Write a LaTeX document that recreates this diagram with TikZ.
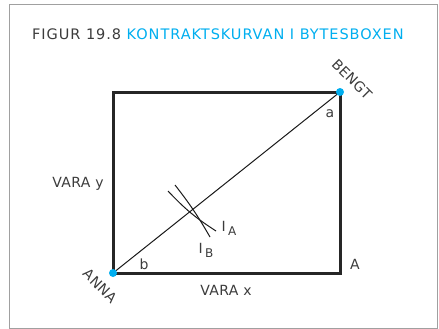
\documentclass[tikz,border=0pt]{standalone}
\usepackage{fontspec}
\setmainfont{DejaVu Sans}
\newfontfamily\titlefont[LetterSpace=6.5]{DejaVu Sans}
\newfontfamily\lblfont[LetterSpace=3]{DejaVu Sans}
\usepackage{tikz}
\usetikzlibrary{arrows.meta, calc, positioning}
\definecolor{figcyan}{RGB}{0,174,239}
\definecolor{figgray}{RGB}{60,60,60}
\definecolor{framegray}{RGB}{160,160,160}
\tikzset{
  boxline/.style={draw=black!85, line width=3pt},
  diagline/.style={draw=black!90, line width=1pt},
  icurve/.style={draw=black!90, line width=1pt},
  enddot/.style={circle, fill=figcyan, inner sep=0pt, minimum size=8pt},
  lbl/.style={font=\lblfont\fontsize{14}{16}\selectfont, text=figgray, inner sep=1pt},
  rlbl/.style={lbl, rotate=-45},
}

\begin{document}
\begin{tikzpicture}[x=1pt, y=-1pt]

% =====================================================================
%  FRAME AND TITLE
% =====================================================================
\useasboundingbox (0,0) rectangle (439,329);
\draw[framegray, line width=1pt] (9.5,4.5) rectangle (437,328.5);

\node[anchor=west, inner sep=0pt, font=\titlefont\fontsize{14.5}{16}\selectfont]
  (title) at (32,34) {\textcolor{figgray}{FIGUR 19.8} \textcolor{figcyan}{KONTRAKTSKURVAN I BYTESBOXEN}};

% =====================================================================
%  EDGEWORTH BOX
% =====================================================================
\coordinate (anna) at (113,273);
\coordinate (bengt) at (340,92);

\draw[boxline] (anna) rectangle (bengt);
\draw[diagline] (anna) -- (bengt);

% indifference curves through the contract curve
\coordinate (ia1) at (168,191);
\coordinate (ia2) at (216,231);
\coordinate (ib1) at (175,185);
\coordinate (ib2) at (210,237);
\draw[icurve] (ia1) to[bend right=7] (ia2);
\draw[icurve] (ib1) to[bend left=4] (ib2);

% end points
\node[enddot] (annadot) at (anna) {};
\node[enddot] (bengtdot) at (bengt) {};

% =====================================================================
%  LABELS
% =====================================================================
\node[rlbl] (annalbl) at (100,286) {ANNA};
\node[rlbl] (bengtlbl) at (352,79) {BENGT};

\node[lbl] (varay) at (78,184) {VARA y};
\node[lbl] (varax) at (226,290) {VARA x};
\node[lbl] (bigA) at (355,264) {A};
\node[lbl] (smalla) at (330,114) {a};
\node[lbl] (smallb) at (144,264) {b};

\node[lbl] (ialbl) at (229,228) {I\,\raisebox{-4pt}{\fontsize{12}{14}\selectfont A}};
\node[lbl] (iblbl) at (206,250) {I\,\raisebox{-4pt}{\fontsize{12}{14}\selectfont B}};

\end{tikzpicture}
\end{document}
